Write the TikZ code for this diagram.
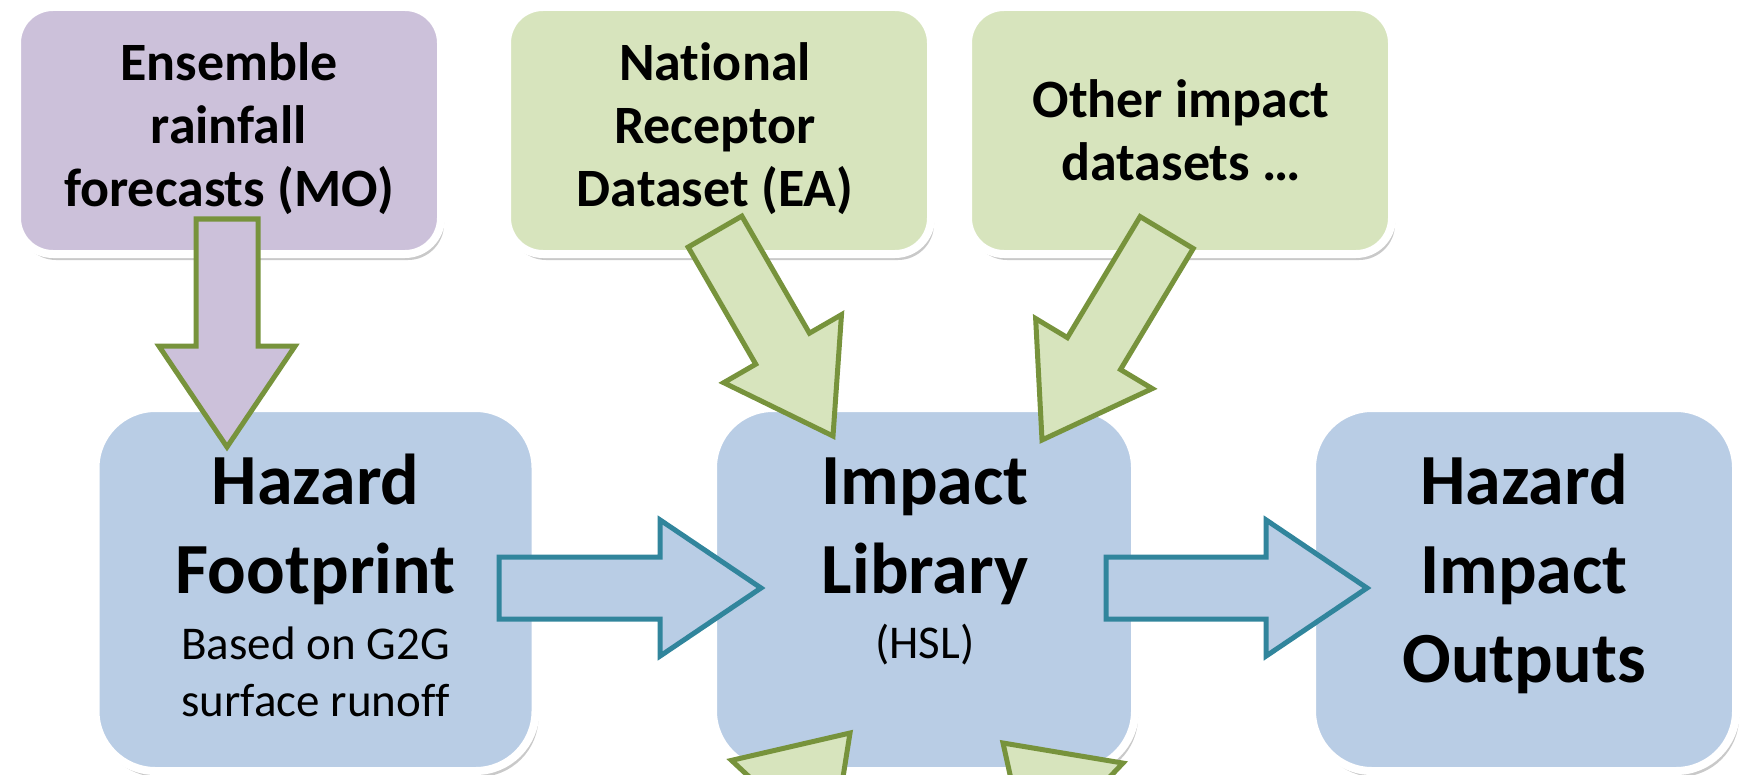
\documentclass[tikz,border=0pt]{standalone}
\usepackage{fontspec}
\setmainfont{Carlito}[Ligatures=NoCommon]
\usetikzlibrary{shapes.arrows,shadows}

\definecolor{rainfill}{HTML}{CCC1DA}
\definecolor{datafill}{HTML}{D7E4BD}
\definecolor{chainfill}{HTML}{B9CDE5}
\definecolor{oliveline}{HTML}{77933C}
\definecolor{tealline}{HTML}{31859C}

\tikzset{
  softshadow/.style={drop shadow={shadow xshift=1.5pt, shadow yshift=-3pt, fill=black!70, opacity=.3}},
  srcbox/.style={draw=white, line width=4pt, rounded corners=18pt,
    minimum width=212pt, minimum height=123.5pt, softshadow},
  chainbox/.style={draw=white, line width=4pt, rounded corners=30pt,
    minimum height=181.5pt, fill=chainfill, softshadow},
  flowarrow/.style={single arrow, line width=2.5pt, inner xsep=0pt, inner ysep=14.25pt,
    outer sep=0pt, single arrow head extend=18.5pt, single arrow tip angle=68, anchor=tip},
  srctext/.style={font=\fontsize{27}{31.5}\selectfont\bfseries, align=center, inner sep=0pt, anchor=north},
  bigtext/.style={font=\fontsize{36}{44.5}\selectfont\bfseries, align=center, inner sep=0pt, anchor=north},
  subtext/.style={font=\fontsize{23.5}{28.5}\selectfont, align=center, inner sep=0pt, anchor=north},
}

\begin{document}
\begin{tikzpicture}[x=0.5pt, y=-0.5pt]
  \clip (0,0) rectangle (1748,775);

  % input datasets
  \node[srcbox, fill=rainfill] (rain) at (229,130.5) {};
  \node[srcbox, fill=datafill] (nrd) at (719,130.5) {};
  \node[srcbox, fill=datafill] (other) at (1180,130.5) {};

  % hazard -> impact chain
  \node[chainbox, minimum width=220pt] (haz) at (315.5,589.5) {};
  \node[chainbox, minimum width=211pt] (lib) at (924,589.5) {};
  \node[chainbox, minimum width=212pt] (out) at (1524,589.5) {};

  \node[srctext] (raintxt) at (229,42) {Ensemble\\rainfall\\forecasts (MO)};
  \node[srctext] (nrdtxt) at (715,42) {National\\Receptor\\Dataset (EA)};
  \node[srctext] (othertxt) at (1181,79) {Other impact\\datasets …};

  \node[bigtext] (haztxt) at (315.5,454) {Hazard\\Footprint};
  \node[subtext] (hazsub) at (315.5,626) {Based on G2G\\surface runoff};
  \node[bigtext] (libtxt) at (925,457) {Impact\\Library};
  \node[subtext] (libsub) at (925,624) {(HSL)};
  \node[bigtext] (outtxt) at (1524,454) {Hazard\\Impact\\Outputs};

  % block arrows
  \node[flowarrow, fill=rainfill, draw=oliveline, rotate=-90, minimum height=114pt] (rain2haz) at (227,447) {};
  \node[flowarrow, fill=datafill, draw=oliveline, rotate=-60, minimum height=118pt] (nrd2lib) at (833,436) {};
  \node[flowarrow, fill=datafill, draw=oliveline, rotate=-121, minimum height=121pt] (other2lib) at (1042,440) {};
  \node[flowarrow, fill=datafill, draw=oliveline, rotate=47, minimum height=120pt] (low2lib) at (850,733) {};
  \node[flowarrow, fill=datafill, draw=oliveline, rotate=136.5, minimum height=120pt] (lowb2lib) at (1003,743) {};
  \node[flowarrow, fill=chainfill, draw=tealline, minimum height=131pt] (haz2lib) at (761,588) {};
  \node[flowarrow, fill=chainfill, draw=tealline, minimum height=130.5pt] (lib2out) at (1367,588) {};
\end{tikzpicture}
\end{document}
